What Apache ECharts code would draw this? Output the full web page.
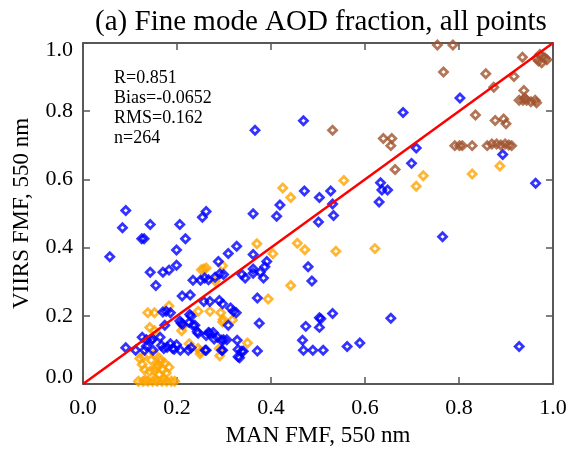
<!DOCTYPE html>
<html>
<head>
<meta charset="utf-8">
<script src="https://cdn.jsdelivr.net/npm/echarts@6/dist/echarts.min.js"></script>
<style>
  html, body { margin: 0; padding: 0; background: #fff; }
  #chart { width: 571px; height: 452px; }
</style>
</head>
<body>
<div id="chart"></div>
<script>
// axis ticks
const tickValues = [0.0, 0.2, 0.4, 0.6, 0.8, 1.0];
const tickLabels = ['0.0', '0.2', '0.4', '0.6', '0.8', '1.0'];

// stats box
const statLines = ['R=0.851', 'Bias=-0.0652', 'RMS=0.162', 'n=264'];

// 1:1 reference line
const oneToOne = [[0, 0], [1, 1]];

// [MAN FMF, VIIRS FMF]
const bluePts = [
  [0.091,0.509],[0.084,0.458],[0.057,0.373],[0.125,0.426],[0.130,0.426],[0.143,0.468],[0.206,0.468],
  [0.218,0.426],[0.199,0.393],[0.143,0.328],[0.170,0.328],[0.183,0.334],[0.199,0.348],[0.155,0.289],
  [0.234,0.304],[0.250,0.304],[0.259,0.311],[0.254,0.489],[0.262,0.506],
  [0.362,0.499],[0.471,0.566],[0.503,0.547],[0.419,0.525],[0.412,0.492],[0.501,0.475],[0.327,0.404],
  [0.309,0.383],[0.362,0.380],[0.288,0.359],[0.391,0.359],[0.387,0.344],[0.377,0.328],[0.362,0.337],
  [0.384,0.311],[0.362,0.325],[0.338,0.321],[0.345,0.311],[0.291,0.323],[0.299,0.321],[0.267,0.306],
  [0.281,0.313],[0.479,0.344],[0.487,0.302],
  [0.366,0.744],[0.469,0.772],[0.681,0.796],[0.802,0.839],[0.709,0.692],[0.699,0.647],[0.893,0.673],
  [0.963,0.589],[0.527,0.566],[0.531,0.528],[0.533,0.494],[0.633,0.590],[0.636,0.569],[0.648,0.569],
  [0.630,0.534],[0.765,0.432],
  [0.503,0.194],[0.506,0.191],[0.531,0.207],[0.655,0.193],[0.474,0.169],[0.503,0.166],[0.467,0.128],
  [0.469,0.099],[0.489,0.099],[0.511,0.099],[0.562,0.110],[0.589,0.120],[0.928,0.110],
  [0.371,0.252],[0.257,0.242],[0.270,0.242],[0.290,0.245],[0.297,0.235],[0.314,0.223],[0.320,0.213],
  [0.326,0.209],[0.309,0.172],[0.375,0.178],[0.269,0.149],[0.279,0.132],[0.295,0.128],[0.306,0.130],
  [0.328,0.128],[0.260,0.099],[0.295,0.099],[0.330,0.101],[0.338,0.096],[0.333,0.077],[0.371,0.097],
  [0.286,0.137],[0.277,0.151],[0.267,0.151],
  [0.211,0.258],[0.228,0.261],[0.170,0.211],[0.177,0.213],[0.186,0.209],[0.227,0.204],[0.230,0.199],
  [0.209,0.178],[0.226,0.180],[0.234,0.172],[0.245,0.149],[0.174,0.172],[0.126,0.137],[0.135,0.130],
  [0.145,0.128],[0.164,0.137],[0.091,0.106],[0.112,0.099],[0.131,0.099],[0.149,0.099],[0.167,0.113],
  [0.172,0.104],[0.186,0.118],[0.191,0.104],[0.199,0.115],[0.207,0.099],[0.224,0.099],[0.230,0.106],
  [0.262,0.142],[0.206,0.185],[0.212,0.175],[0.238,0.172],[0.243,0.153],[0.262,0.099],[0.148,0.132],
  [0.135,0.111],[0.179,0.108],[0.194,0.102],[0.297,0.099],[0.341,0.096],[0.330,0.080],[0.299,0.130]
];

const orangePts = [
  [0.257,0.337],[0.262,0.340],[0.252,0.335],[0.425,0.575],[0.442,0.547],[0.370,0.411],[0.404,0.382],
  [0.456,0.413],[0.472,0.394],[0.297,0.347],[0.442,0.289],[0.555,0.597],[0.724,0.611],[0.709,0.580],
  [0.538,0.389],[0.621,0.397],[0.828,0.616],[0.887,0.639],[0.394,0.249],[0.270,0.213],[0.293,0.209],
  [0.297,0.182],[0.318,0.188],[0.350,0.120],[0.291,0.083],[0.281,0.302],[0.138,0.209],[0.152,0.209],
  [0.183,0.229],[0.142,0.166],[0.152,0.156],[0.245,0.213],[0.213,0.170],[0.250,0.096],[0.226,0.118],
  [0.121,0.075],[0.128,0.080],[0.152,0.089],[0.164,0.073],[0.174,0.061],[0.183,0.049],[0.160,0.056],
  [0.170,0.042],[0.142,0.037],[0.152,0.039],[0.162,0.028],[0.177,0.032],[0.126,0.057],[0.131,0.042],
  [0.165,0.065],[0.155,0.050],[0.145,0.070],[0.210,0.156],[0.245,0.104],[0.249,0.089],[0.290,0.104],
  [0.298,0.189],
  [0.118,0.008],[0.128,0.008],[0.138,0.008],[0.148,0.008],[0.158,0.008],[0.168,0.008],[0.178,0.008],
  [0.188,0.008],[0.195,0.008],[0.133,0.012],[0.155,0.012],[0.172,0.015]
];

const brownPts = [
  [0.754,0.994],[0.787,0.994],[0.767,0.915],[0.857,0.910],[0.935,0.958],[0.917,0.902],[0.874,0.870],
  [0.938,0.861],[0.972,0.966],[0.983,0.956],[0.969,0.947],[0.976,0.942],[0.987,0.951],[0.978,0.960],
  [0.965,0.955],[0.928,0.832],[0.936,0.832],[0.944,0.832],[0.953,0.828],[0.962,0.832],[0.965,0.825],
  [0.940,0.838],[0.835,0.789],[0.877,0.773],[0.895,0.777],[0.900,0.763],
  [0.531,0.744],[0.639,0.720],[0.657,0.720],[0.655,0.699],[0.664,0.629],
  [0.791,0.699],[0.801,0.699],[0.807,0.699],[0.828,0.699],[0.860,0.699],[0.870,0.704],[0.880,0.704],
  [0.889,0.701],[0.898,0.704],[0.906,0.701],[0.912,0.699]
];

const FONT = 'Liberation Serif';

const chart = echarts.init(document.getElementById('chart'));

const tickFmt = v => {
  const i = tickValues.findIndex(t => Math.abs(t - v) < 1e-6);
  return i >= 0 ? tickLabels[i] : '';
};

function axisBase(pos, showLabel) {
  return {
    type: 'value',
    position: pos,
    min: 0,
    max: 1,
    interval: 0.2,
    axisLine: { show: true, onZero: false, lineStyle: { color: '#222', width: 1.5 } },
    axisTick: { show: true, inside: true, length: 7, lineStyle: { color: '#555', width: 1.5 } },
    axisLabel: {
      show: showLabel,
      formatter: tickFmt,
      fontFamily: FONT,
      fontSize: 22,
      color: '#000',
      margin: 10
    },
    splitLine: { show: false }
  };
}

function scatter(data, color) {
  return {
    type: 'scatter',
    data: data,
    symbol: 'diamond',
    symbolSize: 8,
    itemStyle: { color: 'rgba(0,0,0,0)', borderColor: color, borderWidth: 2.8 },
    xAxisIndex: 0,
    yAxisIndex: 0
  };
}

const xBottom = Object.assign(axisBase('bottom', true), {
  name: 'MAN FMF, 550 nm',
  nameLocation: 'middle',
  nameGap: 40,
  nameTextStyle: { fontFamily: FONT, fontSize: 23, color: '#000' }
});
xBottom.axisLabel.margin = 13;

const yLeft = Object.assign(axisBase('left', true), {
  name: 'VIIRS FMF, 550 nm',
  nameLocation: 'middle',
  nameGap: 50,
  nameTextStyle: { fontFamily: FONT, fontSize: 23, color: '#000' }
});
yLeft.axisLabel.lineHeight = 14;
yLeft.axisLabel.verticalAlignMinLabel = 'bottom';
yLeft.axisLabel.verticalAlignMaxLabel = 'top';

chart.setOption({
  animation: false,
  backgroundColor: '#fff',
  title: {
    text: '(a) Fine mode AOD fraction, all points',
    left: 316,
    top: 3,
    textAlign: 'center',
    textStyle: { fontFamily: FONT, fontSize: 29, fontWeight: 'normal', color: '#000' }
  },
  grid: { left: 83, right: 18, top: 43, bottom: 59, containLabel: false },
  xAxis: [xBottom, axisBase('top', false)],
  yAxis: [yLeft, axisBase('right', false)],
  graphic: [{
    type: 'text',
    left: 114,
    top: 68,
    style: {
      text: statLines.join('\n'),
      font: '18px "Liberation Serif"',
      lineHeight: 20,
      fill: '#000'
    }
  }],
  series: [
    scatter(orangePts, '#FFA500'),
    scatter(bluePts, '#0000FF'),
    scatter(brownPts, '#A0522D'),
    {
      type: 'line',
      data: oneToOne,
      symbol: 'none',
      z: 5,
      lineStyle: { color: '#FF0000', width: 2.5 },
      xAxisIndex: 0,
      yAxisIndex: 0
    }
  ]
});
</script>
</body>
</html>
